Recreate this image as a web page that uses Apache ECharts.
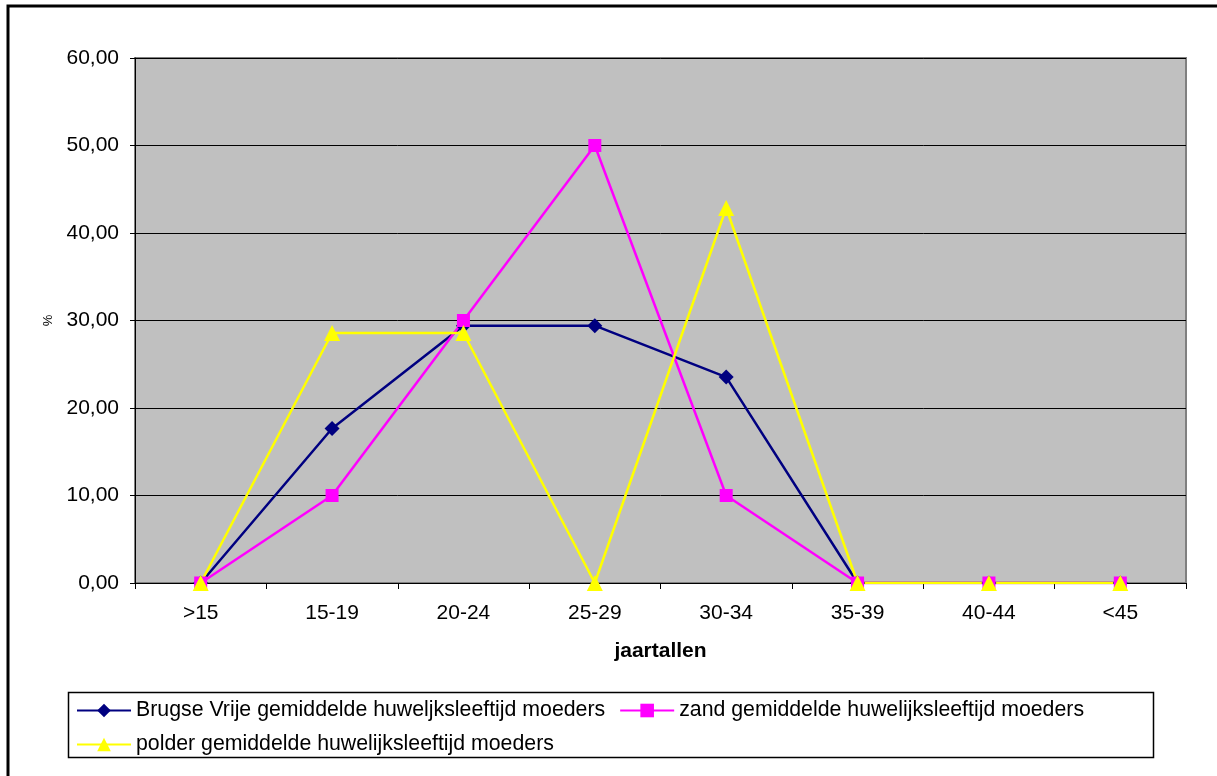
<!DOCTYPE html>
<html>
<head>
<meta charset="utf-8">
<script src="https://cdn.jsdelivr.net/npm/echarts@6/dist/echarts.min.js"></script>
<style>
html,body{margin:0;padding:0;background:#fff;}
#chart{width:1217px;height:776px;}
</style>
</head>
<body>
<div id="chart"></div>
<script>
const categories = ['>15', '15-19', '20-24', '25-29', '30-34', '35-39', '40-44', '<45'];
const brugseVrije = [0, 17.65, 29.41, 29.41, 23.53, 0, 0, 0];
const zand = [0, 10.0, 30.0, 50.0, 10.0, 0, 0, 0];
const polder = [0, 28.57, 28.57, 0, 42.86, 0, 0, 0];
const seriesNames = [
  'Brugse Vrije gemiddelde huweljksleeftijd moeders',
  'zand gemiddelde huwelijksleeftijd moeders',
  'polder gemiddelde huwelijksleeftijd moeders'
];

const font = '"Liberation Sans", Arial, sans-serif';
const chart = echarts.init(document.getElementById('chart'));
chart.setOption({
  animation: false,
  textStyle: { fontFamily: font, color: '#000' },
  graphic: [
    { type: 'rect', shape: { x: 8, y: 6, width: 1240, height: 800 },
      style: { fill: 'none', stroke: '#000', lineWidth: 3 }, z: 0 },
    { type: 'rect', shape: { x: 68.5, y: 692.5, width: 1085, height: 65 },
      style: { fill: '#fff', stroke: '#000', lineWidth: 1.5 }, z: 0 }
  ],
  grid: {
    left: 135, right: 31, top: 58, bottom: 193,
    show: true, backgroundColor: '#C0C0C0', borderColor: '#808080', borderWidth: 2
  },
  legend: [
    { data: [seriesNames[0], seriesNames[1]], left: 76, top: 700, padding: 0,
      itemWidth: 54, itemHeight: 17, itemGap: 14,
      textStyle: { fontFamily: font, fontSize: 21.3, color: '#000' } },
    { data: [seriesNames[2]], left: 76, top: 734, padding: 0, itemWidth: 54, itemHeight: 17,
      textStyle: { fontFamily: font, fontSize: 21.3, color: '#000' } }
  ],
  xAxis: {
    type: 'category', data: categories, boundaryGap: true,
    name: 'jaartallen', nameLocation: 'middle', nameGap: 58,
    nameTextStyle: { fontFamily: font, fontSize: 21, fontWeight: 'bold', color: '#000' },
    axisLine: { lineStyle: { color: '#000', width: 1 } },
    axisTick: { show: true, length: 6, alignWithLabel: false, lineStyle: { color: '#000' } },
    axisLabel: { fontFamily: font, fontSize: 21, color: '#000', margin: 20 },
    splitLine: { show: false }
  },
  yAxis: {
    type: 'value', min: 0, max: 60, interval: 10,
    name: '%', nameLocation: 'middle', nameGap: 80, nameRotate: 90,
    nameTextStyle: { fontFamily: font, fontSize: 13, color: '#000' },
    axisLine: { show: true, lineStyle: { color: '#000', width: 1 } },
    axisTick: { show: true, length: 5, lineStyle: { color: '#000' } },
    axisLabel: { fontFamily: font, fontSize: 21, color: '#000', margin: 16,
      formatter: v => v.toFixed(2).replace('.', ',') },
    splitLine: { show: true, lineStyle: { color: '#000', width: 1 } }
  },
  series: [
    { name: seriesNames[0], type: 'line', data: brugseVrije,
      symbol: 'diamond', symbolSize: 15,
      lineStyle: { color: '#000080', width: 2.5 }, itemStyle: { color: '#000080' } },
    { name: seriesNames[1], type: 'line', data: zand,
      symbol: 'rect', symbolSize: 13,
      lineStyle: { color: '#FF00FF', width: 2.5 }, itemStyle: { color: '#FF00FF' } },
    { name: seriesNames[2], type: 'line', data: polder,
      symbol: 'triangle', symbolSize: 16,
      lineStyle: { color: '#FFFF00', width: 2.5 }, itemStyle: { color: '#FFFF00' } }
  ]
});
</script>
</body>
</html>
